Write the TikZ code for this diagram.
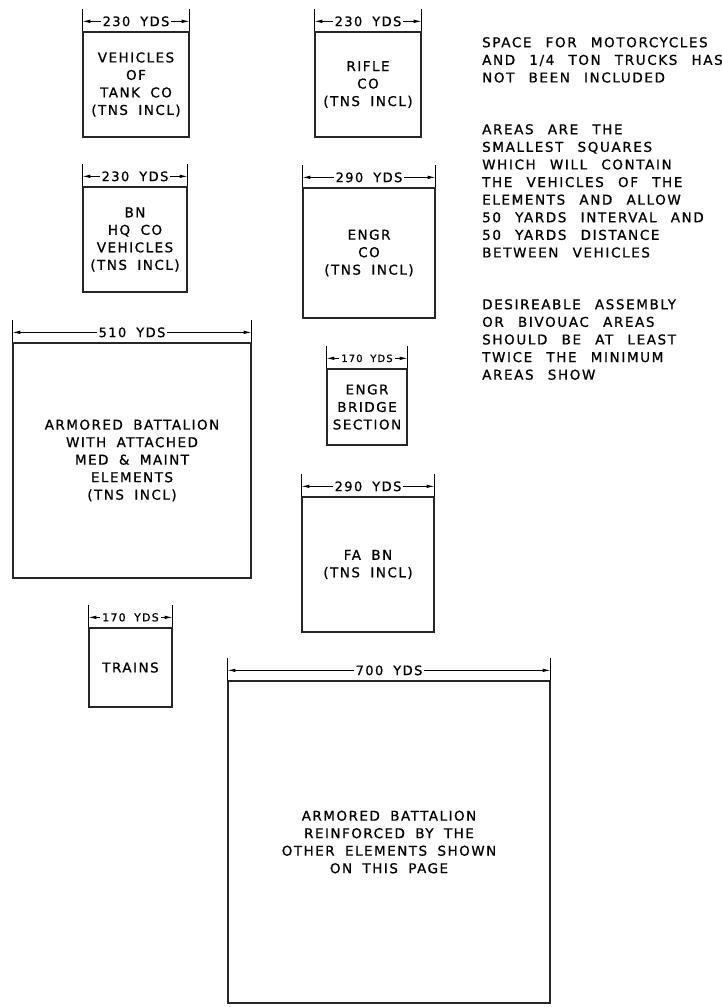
\documentclass[tikz,border=0pt]{standalone}
\usepackage{fontspec}
\newfontfamily\lettering[LetterSpace=11, WordSpace=1.8, FakeBold=0.9]{DejaVu Sans}
\newfontfamily\notelettering[LetterSpace=12, WordSpace=2.4, FakeBold=0.9]{DejaVu Sans}
\usetikzlibrary{arrows.meta, positioning}
\tikzset{%
  area/.style = {rectangle, draw = black!85, line width = 1.3pt, align = center, inner sep = 0pt, font = \lettering\fontsize{13.5}{17.5}\selectfont},
  note/.style = {anchor = north west, align = left, inner sep = 0pt, font = \notelettering\fontsize{13.5}{17.6}\selectfont},
  dim/.style = {{Latex[length=8pt, width=3.5pt]}-{Latex[length=8pt, width=3.5pt]}, line width = 0.8pt},
  dimlabel/.style = {fill = white, inner xsep = 2pt, inner ysep = 0pt},
  tick/.style = {line width = 0.9pt}
}

\begin{document}
\begin{tikzpicture}[x=1pt, y=-1pt]
    \useasboundingbox (0,0) rectangle (722,1007);
    % areas
    \node[area, minimum width=106pt, minimum height=105pt] at (136, 84.5) (tank) {VEHICLES\\OF\\TANK CO\\(TNS INCL)};
    \node[area, minimum width=106pt, minimum height=105pt] at (368, 84.5) (rifle) {RIFLE\\CO\\(TNS INCL)};
    \node[area, minimum width=104pt, minimum height=105pt] at (135, 239.5) (hq) {BN\\HQ CO\\VEHICLES\\(TNS INCL)};
    \node[area, minimum width=132pt, minimum height=130pt] at (369, 253) (engr) {ENGR\\CO\\(TNS INCL)};
    \node[area, minimum width=238pt, minimum height=235pt] at (132, 460.5) (armd) {ARMORED BATTALION\\WITH ATTACHED\\MED \& MAINT\\ELEMENTS\\(TNS INCL)};
    \node[area, minimum width=80pt, minimum height=76pt] at (367, 407) (bridge) {ENGR\\BRIDGE\\SECTION};
    \node[area, minimum width=132pt, minimum height=135pt] at (368, 564.5) (fabn) {FA BN\\(TNS INCL)};
    \node[area, minimum width=83pt, minimum height=79pt] at (130.5, 667.5) (trains) {TRAINS};
    \node[area, minimum width=322pt, minimum height=322pt] at (389, 842) (reinf) {ARMORED BATTALION\\REINFORCED BY THE\\OTHER ELEMENTS SHOWN\\ON THIS PAGE};
    % dimensions
    \foreach \n/\t/\s in {tank/230/13, rifle/230/13, hq/230/13, engr/290/13, armd/510/13, bridge/170/10, fabn/290/13, trains/170/11, reinf/700/13} {
      \draw[tick] (\n.north west) -- ++(0,-22);
      \draw[tick] (\n.north east) -- ++(0,-22);
      \draw[dim] ([yshift=10pt]\n.north west) -- ([yshift=10pt]\n.north east)
        node[dimlabel, midway, font=\lettering\fontsize{\s}{\s}\selectfont] {\t\ YDS};
    }
    % notes
    \node[note] at (482, 37) (space) {SPACE FOR MOTORCYCLES\\AND 1/4 TON TRUCKS HAS\\NOT BEEN INCLUDED};
    \node[note] at (482, 124) (areas) {AREAS ARE THE\\SMALLEST SQUARES\\WHICH WILL CONTAIN\\THE VEHICLES OF THE\\ELEMENTS AND ALLOW\\50 YARDS INTERVAL AND\\50 YARDS DISTANCE\\BETWEEN VEHICLES};
    \node[note] at (482, 299) (desire) {DESIREABLE ASSEMBLY\\OR BIVOUAC AREAS\\SHOULD BE AT LEAST\\TWICE THE MINIMUM\\AREAS SHOW};
\end{tikzpicture}
\end{document}
